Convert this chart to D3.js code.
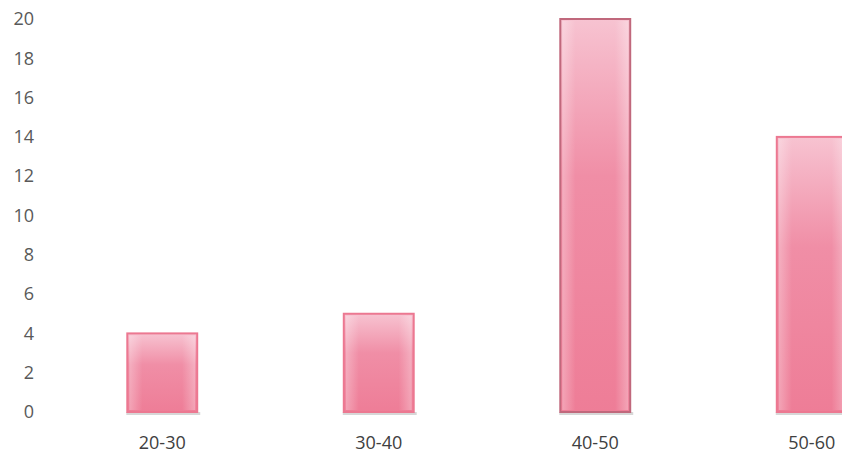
<!DOCTYPE html>
<html>
<head>
<meta charset="utf-8">
<script src="https://cdn.jsdelivr.net/npm/d3@7"></script>
<style>
  body { margin: 0; background: #fff; }
  text { font-family: "Open Sans", "Liberation Sans", sans-serif; }
</style>
</head>
<body>
<div id="chart"></div>
<script>
const categories = ['20-30', '30-40', '40-50', '50-60'];
const values = [4, 5, 20, 14];
const yTicks = [0, 2, 4, 6, 8, 10, 12, 14, 16, 18, 20];

const largura = 842, altura = 456;
const svg = d3.select('#chart').append('svg')
    .attr('width', largura)
    .attr('height', altura);

const defs = svg.append('defs');
const grad = defs.append('linearGradient')
    .attr('id', 'rosa')
    .attr('x1', 0).attr('y1', 0).attr('x2', 0).attr('y2', 1);
grad.append('stop').attr('offset', '0%').attr('stop-color', '#f7c3d1');
grad.append('stop').attr('offset', '40%').attr('stop-color', '#f08ea6');
grad.append('stop').attr('offset', '100%').attr('stop-color', '#ee7d97');

const gradH = defs.append('linearGradient')
    .attr('id', 'brilho')
    .attr('x1', 0).attr('y1', 0).attr('x2', 1).attr('y2', 0);
gradH.append('stop').attr('offset', '0%').attr('stop-color', '#fff').attr('stop-opacity', 0.3);
gradH.append('stop').attr('offset', '20%').attr('stop-color', '#fff').attr('stop-opacity', 0);
gradH.append('stop').attr('offset', '80%').attr('stop-color', '#fff').attr('stop-opacity', 0);
gradH.append('stop').attr('offset', '100%').attr('stop-color', '#fff').attr('stop-opacity', 0.3);

const x = d3.scaleBand()
    .domain(categories)
    .range([54, 920])
    .paddingInner(0.677)
    .paddingOuter(0.3385);

const y = d3.scaleLinear()
    .domain([0, 20])
    .range([412, 19]);

// eixo y
const yAxis = svg.append('g')
    .attr('transform', 'translate(34,0)')
    .call(d3.axisLeft(y).tickValues(yTicks).tickSize(0).tickPadding(0));
yAxis.select('.domain').remove();
yAxis.selectAll('text')
    .attr('fill', '#595959')
    .style('font-size', '18px');

// sombra
svg.append('g').selectAll('rect')
    .data(values)
    .enter()
    .append('rect')
    .attr('x', (d, i) => x(categories[i]) - 1)
    .attr('y', y(0))
    .attr('width', x.bandwidth() + 4)
    .attr('height', 3)
    .attr('fill', '#bdbdbd')
    .attr('opacity', 0.6);

// barras
const barras = svg.append('g').attr('class', 'barras');
barras.selectAll('rect.barra')
    .data(values)
    .enter()
    .append('rect')
    .attr('class', 'barra')
    .attr('x', (d, i) => x(categories[i]))
    .attr('y', d => y(d))
    .attr('width', x.bandwidth())
    .attr('height', d => y(0) - y(d))
    .attr('fill', 'url(#rosa)')
    .attr('stroke', (d, i) => i === 2 ? '#c0687c' : '#ec7891')
    .attr('stroke-width', 2);
barras.selectAll('rect.brilho')
    .data(values)
    .enter()
    .append('rect')
    .attr('class', 'brilho')
    .attr('x', (d, i) => x(categories[i]) + 2)
    .attr('y', d => y(d) + 2)
    .attr('width', x.bandwidth() - 4)
    .attr('height', d => y(0) - y(d) - 4)
    .attr('fill', 'url(#brilho)');

// eixo x
const xAxis = svg.append('g')
    .attr('transform', 'translate(0,' + 436 + ')')
    .call(d3.axisBottom(x).tickSize(0).tickPadding(0));
xAxis.select('.domain').remove();
xAxis.selectAll('text')
    .attr('fill', '#404040')
    .attr('dy', '0.71em')
    .style('font-size', '18px');
</script>
</body>
</html>
